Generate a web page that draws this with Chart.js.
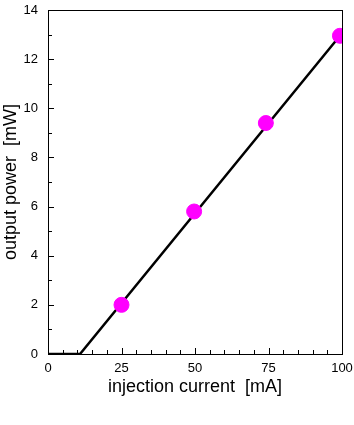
<!DOCTYPE html>
<html>
<head>
<meta charset="utf-8">
<script src="https://cdn.jsdelivr.net/npm/chart.js@4.4.1/dist/chart.umd.min.js"></script>
<style>
  html, body { margin: 0; padding: 0; background: #fff; }
  #wrap { width: 354px; height: 425px; }
</style>
</head>
<body>
<div id="wrap"><canvas id="lightChart" width="354" height="425"></canvas></div>
<script>
// measured points
const currentMA = [25, 49.7, 74.1, 99.3];
const powerMW = [2.0, 5.8, 9.4, 12.95];

// fitted L-I line (threshold ~10.9 mA)
const fitCurrent = [0, 10.9, 99.3];
const fitPower = [0, 0, 12.95];

const xMajorTicks = [0, 25, 50, 75, 100];
const yMajorTicks = [0, 2, 4, 6, 8, 10, 12, 14];

const font = "'Liberation Sans', Arial, sans-serif";

// frame + inward ticks
const framePlugin = {
    id: 'frame',
    afterDraw(chart) {
        const ctx = chart.ctx;
        const a = chart.chartArea;
        const x = chart.scales.x, y = chart.scales.y;
        ctx.save();
        ctx.strokeStyle = '#000';
        ctx.lineWidth = 1;
        ctx.strokeRect(a.left + 0.5, a.top + 0.5, a.right - a.left, a.bottom - a.top);
        ctx.beginPath();
        for (let v = 0; v <= 100; v += 5) {
            const px = Math.round(x.getPixelForValue(v)) + 0.5;
            const len = xMajorTicks.includes(v) ? 6 : 4;
            ctx.moveTo(px, a.bottom);
            ctx.lineTo(px, a.bottom - len);
        }
        for (let v = 0; v <= 14; v += 1) {
            const py = Math.round(y.getPixelForValue(v)) + 0.5;
            const len = yMajorTicks.includes(v) ? 6 : 4;
            ctx.moveTo(a.left, py);
            ctx.lineTo(a.left + len, py);
        }
        ctx.stroke();
        ctx.restore();
    }
};

const config = {
    type: 'scatter',
    data: {
        datasets: [{
            label: 'fit',
            data: fitCurrent.map((c, i) => ({x: c, y: fitPower[i]})),
            showLine: true,
            borderColor: '#000',
            borderWidth: 2.5,
            pointRadius: 0,
            order: 2
        }, {
            label: 'measured',
            data: currentMA.map((c, i) => ({x: c, y: powerMW[i]})),
            backgroundColor: '#ff00ff',
            borderColor: '#ff00ff',
            pointRadius: 7.5,
            pointStyle: 'circle',
            order: 1
        }]
    },
    options: {
        responsive: false,
        animation: false,
        layout: { padding: { left: 0, top: 10, right: 12, bottom: 27 } },
        plugins: { legend: { display: false }, tooltip: { enabled: false } },
        scales: {
            x: {
                type: 'linear', min: 0, max: 100,
                afterFit: s => { s.height = 44; s.paddingLeft = 0; s.paddingRight = 0; },
                afterBuildTicks: s => { s.ticks = xMajorTicks.map(v => ({value: v})); },
                grid: { display: false, drawTicks: false },
                border: { display: false },
                ticks: { color: '#000', font: { family: font, size: 13 }, padding: 7, maxRotation: 0 },
                title: { display: true, text: 'injection current  [mA]', color: '#000',
                         font: { family: font, size: 18 }, padding: 0 }
            },
            y: {
                type: 'linear', min: 0, max: 14,
                afterFit: s => { s.width = 48; s.paddingTop = 0; s.paddingBottom = 0; },
                afterBuildTicks: s => { s.ticks = yMajorTicks.map(v => ({value: v})); },
                grid: { display: false, drawTicks: false },
                border: { display: false },
                ticks: { color: '#000', font: { family: font, size: 13 }, padding: 10 },
                title: { display: true, text: 'output power  [mW]', color: '#000',
                         font: { family: font, size: 18 }, padding: 0 }
            }
        }
    },
    plugins: [framePlugin]
};

new Chart(document.getElementById('lightChart'), config);
</script>
</body>
</html>
